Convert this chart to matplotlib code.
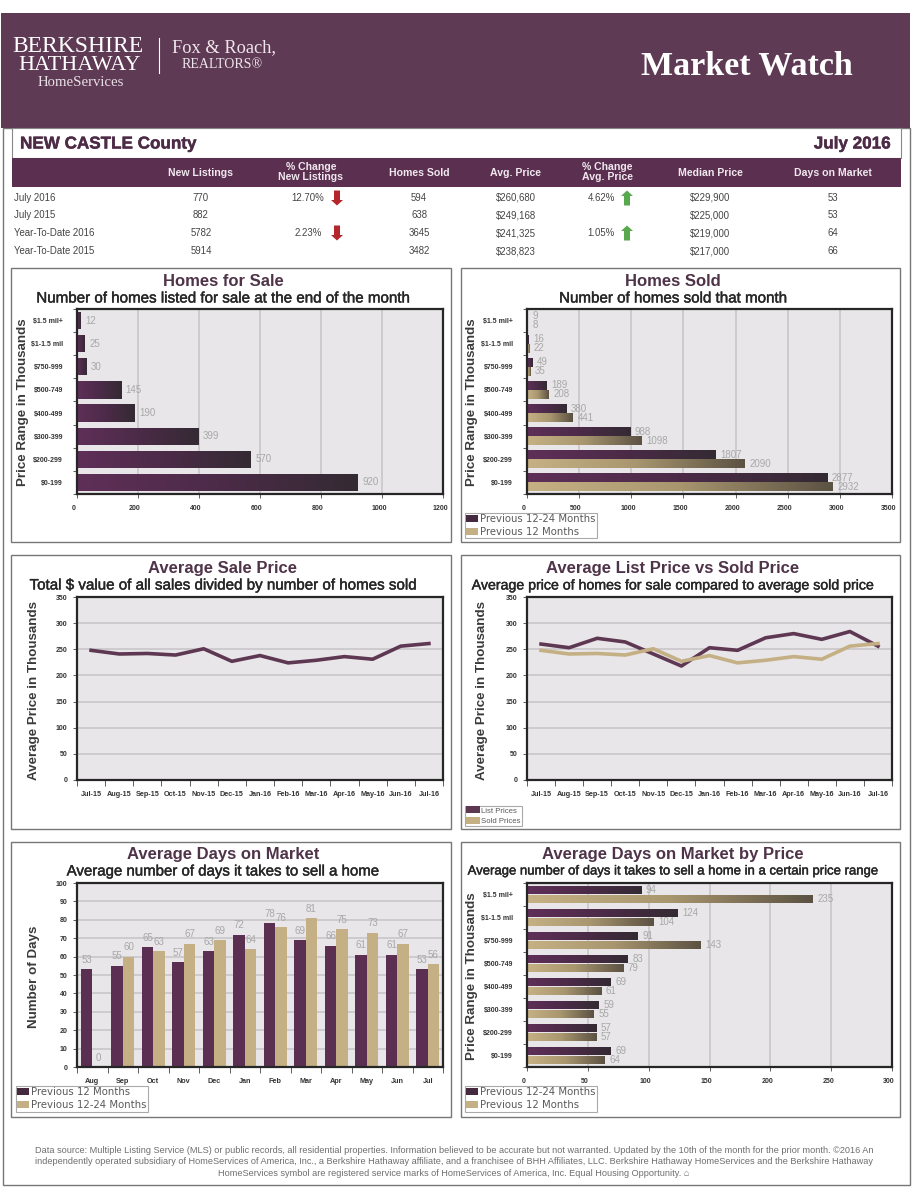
import numpy as np
import matplotlib
matplotlib.use("Agg")
import matplotlib.pyplot as plt
import matplotlib.patheffects as pe
from matplotlib.colors import LinearSegmentedColormap
from matplotlib.patches import Rectangle, Polygon
from matplotlib.transforms import ScaledTranslation

W, H = 924, 1200
PLUM = "#5e3853"
HEAD = "#5f3a54"
BAND = "#5a2f50"
TAN = "#c4b084"
SANS = "Liberation Sans"
SERIF = "Liberation Serif"

plt.rcParams["font.family"] = [SANS, "DejaVu Sans"]

# ---------- data ----------
price_ranges = ["$0-199", "$200-299", "$300-399", "$400-499", "$500-749", "$750-999", "$1-1.5 mil", "$1.5 mil+"]
for_sale = [920, 570, 399, 190, 145, 30, 25, 12]
sold_prev_12_24 = [2877, 1807, 988, 380, 189, 49, 16, 9]
sold_prev_12 = [2932, 2090, 1098, 441, 208, 35, 22, 8]

months_13 = ["Jul-15", "Aug-15", "Sep-15", "Oct-15", "Nov-15", "Dec-15", "Jan-16", "Feb-16", "Mar-16", "Apr-16", "May-16", "Jun-16", "Jul-16"]
sold_prices = [248, 241, 242, 239, 251, 227, 238, 224, 229, 236, 231, 256, 261]
list_prices = [260, 253, 271, 264, 241, 218, 253, 248, 272, 280, 269, 284, 256]

months_12 = ["Aug", "Sep", "Oct", "Nov", "Dec", "Jan", "Feb", "Mar", "Apr", "May", "Jun", "Jul"]
dom_prev_12 = [53, 55, 65, 57, 63, 72, 78, 69, 66, 61, 61, 53]
dom_prev_12_24 = [0, 60, 63, 67, 69, 64, 76, 81, 75, 73, 67, 56]

dom_price_12_24 = [69, 57, 59, 69, 83, 91, 124, 94]
dom_price_12 = [64, 57, 55, 61, 79, 143, 104, 235]

table_columns = ["New Listings", "% Change\nNew Listings", "Homes Sold", "Avg. Price", "% Change\nAvg. Price", "Median Price", "Days on Market"]
table_rows = ["July 2016", "July 2015", "Year-To-Date 2016", "Year-To-Date 2015"]
new_listings = ["770", "882", "5782", "5914"]
pct_listings = ["12.70%", "", "2.23%", ""]
homes_sold = ["594", "638", "3645", "3482"]
avg_price = ["$260,680", "$249,168", "$241,325", "$238,823"]
pct_price = ["4.62%", "", "1.05%", ""]
median_price = ["$229,900", "$225,000", "$219,000", "$217,000"]
days_on_market = ["53", "53", "64", "66"]

footer = ("Data source: Multiple Listing Service (MLS) or public records, all residential properties. Information believed to be accurate but not warranted. Updated by the 10th of the month for the prior month. \u00a92016 An\n"
          "independently operated subsidiary of HomeServices of America, Inc., a Berkshire Hathaway affiliate, and a franchisee of BHH Affiliates, LLC. Berkshire Hathaway HomeServices and the Berkshire Hathaway\n"
          "HomeServices symbol are registered service marks of HomeServices of America, Inc. Equal Housing Opportunity. \u2302")

# ---------- page ----------
fig = plt.figure(figsize=(W / 100, H / 100), dpi=100, facecolor="white")
page = fig.add_axes([0, 0, 1, 1], zorder=0)
page.set_xlim(0, W)
page.set_ylim(H, 0)
page.axis("off")


def box(x0, y0, x1, y1, fc="white", ec="none", lw=1.0, z=1):
    page.add_patch(Rectangle((x0, y0), x1 - x0, y1 - y0, fc=fc, ec=ec, lw=lw, zorder=z))


def heavy(color, w=0.3):
    return [pe.withStroke(linewidth=w, foreground=color)]


box(2.5, 128, 909.5, 1185, ec="#777777", lw=1)
box(1, 12.5, 910, 128, fc=HEAD)
box(12, 128, 901, 158, ec="#888888", lw=0.8, z=2)
box(12, 158, 901, 187, fc=BAND, z=3)

# logo and heading
page.text(78, 47, "BERKSHIRE", family=SERIF, fontsize=17, color="white", ha="center", va="center", zorder=5)
page.text(80, 65.5, "HATHAWAY", family=SERIF, fontsize=16, color="white", ha="center", va="center", zorder=5)
page.text(81, 82, "HomeServices", family=SERIF, fontsize=10.6, color="#e8e0e6", ha="center", va="center", zorder=5)
page.plot([159, 159], [38, 73], color="white", lw=0.8, zorder=5)
page.text(224, 48, "Fox & Roach,", family=SERIF, fontsize=13.2, color="#eee6ec", ha="center", va="center", zorder=5)
page.text(222, 64, "REALTORS\u00ae", family=SERIF, fontsize=10, color="#eee6ec", ha="center", va="center", zorder=5)
page.text(747, 66, "Market Watch", family=SERIF, fontsize=24.5, fontweight="bold", color="white", ha="center", va="center", zorder=5)

page.text(20, 144, "NEW CASTLE County", fontsize=12.3, fontweight="bold", color="#4d2b46", ha="left", va="center", zorder=5,
          path_effects=heavy("#4d2b46"))
page.text(891, 144, "July 2016", fontsize=12.3, fontweight="bold", color="#4d2b46", ha="right", va="center", zorder=5,
          path_effects=heavy("#4d2b46"))

# summary table
col_x = [201, 311, 419, 516, 607, 710, 833]
row_y = [198, 215.5, 233, 251]
for x, label in zip(col_x, table_columns):
    page.text(x, 172.5, label, fontsize=7.6, fontweight="bold", color="#f0e8ee", ha="center", va="center", linespacing=1.0, zorder=5)
for y, label in zip(row_y, table_rows):
    page.text(14, y, label, fontsize=6.9, color="#444444", ha="left", va="center", zorder=5)
columns = [new_listings, pct_listings, homes_sold, avg_price, pct_price, median_price, days_on_market]
value_x = [201, 308, 419, 516, 601, 710, 833]
for x, col in zip(value_x, columns):
    for y, val in zip(row_y, col):
        page.text(x, y, val, fontsize=6.9, color="#444444", ha="center", va="center", zorder=5)


def arrow(x, y, up, color):
    s = -1 if up else 1
    pts = [(x - 3, y - s * 7.5), (x + 3, y - s * 7.5), (x + 3, y + s * 2), (x + 6, y + s * 2),
           (x, y + s * 7.5), (x - 6, y + s * 2), (x - 3, y + s * 2)]
    page.add_patch(Polygon(pts, closed=True, fc=color, ec="none", zorder=5))


for y, v in zip(row_y, pct_listings):
    if v:
        arrow(337, y, False, "#b5262c")
for y, v in zip(row_y, pct_price):
    if v:
        arrow(627, y, True, "#58a84e")

page.text(454, 1162, footer, fontsize=6.6, color="#6e6e6e", ha="center", va="center", linespacing=1.38, zorder=5)

# ---------- panels ----------
PURPLE_CMAP = LinearSegmentedColormap.from_list("p", ["#5f2f58", "#4c2b48", "#342a33"])
TAN_CMAP = LinearSegmentedColormap.from_list("t", ["#c6b184", "#a8966f", "#5c5243"])
TITLE_COL = "#4f3349"
SUB_COL = "#262626"
TICK_COL = "#333333"
VAL_COL = "#a8a8a8"
GRID_COL = "#cbc9cb"


def make_panel(frame, axes_box, title, subtitle, sub_size, title_y, ylabel, ylabel_xy):
    x0, y0, x1, y1 = frame
    box(x0, y0, x1, y1, ec="#777777", lw=1, z=2)
    cx = 223 if x0 < 100 else 673
    page.text(cx, title_y + 1, title, fontsize=12, fontweight="bold", color=TITLE_COL, ha="center", va="center", zorder=5)
    page.text(cx, title_y + 18.5, subtitle, fontsize=sub_size, color=SUB_COL, ha="center", va="center", zorder=5,
              path_effects=heavy(SUB_COL))
    page.text(ylabel_xy[0] + 3, ylabel_xy[1], ylabel, fontsize=9.6, fontweight="bold", color="#3a3a3a", rotation=90, ha="center", va="center", zorder=5)
    ax0, ay0, ax1, ay1 = axes_box
    ax = fig.add_axes([ax0 / W, 1 - ay1 / H, (ax1 - ax0) / W, (ay1 - ay0) / H], zorder=3)
    ax.set_facecolor("#e8e6e8")
    for s in ax.spines.values():
        s.set_color("#262626")
        s.set_linewidth(1.6)
    ax.set_axisbelow(True)
    return ax


def gradient_fill(ax, bars, cmap):
    grad = np.linspace(0, 1, 128).reshape(1, -1)
    for b in bars:
        x, y, w, h = b.get_x(), b.get_y(), b.get_width(), b.get_height()
        if w <= 0:
            continue
        b.set_facecolor("none")
        im = ax.imshow(grad, extent=[x, x + w, y, y + h], aspect="auto", cmap=cmap, zorder=2.5, interpolation="bilinear")
        im.set_clip_path(b)
    ax.set_aspect("auto")


def hbar_axes(ax, xmax, xstep):
    ax.set_ylim(-0.5, 7.5)
    ax.set_xlim(0, xmax)
    ax.set_xticks(np.arange(0, xmax + 1, xstep))
    ax.set_yticks(range(8))
    ax.set_yticklabels(price_ranges)
    ax.set_yticks(np.arange(-0.5, 8, 1), minor=True)
    ax.tick_params(axis="y", which="major", length=0, pad=10, labelsize=5, labelcolor=TICK_COL)
    ax.tick_params(axis="y", which="minor", length=3, width=0.6, color="#444444")
    ax.tick_params(axis="x", which="major", length=3, width=0.6, color="#444444", pad=5, labelsize=5, labelcolor=TICK_COL)
    ax.grid(axis="x", color=GRID_COL, lw=1.3)
    shift = ScaledTranslation(-3 / 100, 0, fig.dpi_scale_trans)
    for lab in ax.get_xticklabels():
        lab.set_transform(lab.get_transform() + shift)
    for lab in ax.get_xticklabels() + ax.get_yticklabels():
        lab.set_fontweight("bold")


def add_legend(ax, labels, colors, left, bottom, fs, family="DejaVu Sans", hl=1.2, hh=0.65):
    handles = [Rectangle((0, 0), 1, 1, fc=c, ec="none") for c in colors]
    leg = ax.legend(handles, labels, loc="lower left", bbox_to_anchor=(left / W, 1 - bottom / H), bbox_transform=fig.transFigure,
                    borderaxespad=0, fancybox=False, framealpha=1, facecolor="white", edgecolor="#aaaaaa",
                    prop={"family": family, "size": fs}, labelcolor="#5a5a5a", handlelength=hl, handleheight=hh,
                    handletextpad=0.2, labelspacing=0.3, borderpad=0.12)
    leg.get_frame().set_linewidth(0.8)
    leg.set_zorder(10)
    leg.set_clip_on(False)


def month_axes(ax, labels, ymax, ystep):
    n = len(labels)
    ax.set_xlim(-0.5, n - 0.5)
    ax.set_ylim(0, ymax)
    ax.set_xticks(range(n))
    ax.set_xticklabels(labels)
    ax.set_xticks(np.arange(-0.5, n, 1), minor=True)
    ax.set_yticks(np.arange(0, ymax + 1, ystep))
    ax.tick_params(axis="x", which="major", length=0, pad=8, labelsize=5.2, labelcolor=TICK_COL)
    ax.tick_params(axis="x", which="minor", length=4, width=0.6, color="#444444")
    ax.tick_params(axis="y", which="major", length=3, width=0.6, color="#444444", pad=4, labelsize=5, labelcolor=TICK_COL)
    ax.grid(axis="y", color=GRID_COL, lw=1.3)
    for lab in ax.get_xticklabels() + ax.get_yticklabels():
        lab.set_fontweight("bold")


L_FRAME, R_FRAME = (11, 451), (461, 900)
L_AX, R_AX = (77, 443), (527, 892)
LABEL_PAD = 3.2

# Homes for Sale
ax = make_panel((L_FRAME[0], 268, L_FRAME[1], 542), (L_AX[0], 309, L_AX[1], 494), "Homes for Sale",
                "Number of homes listed for sale at the end of the month", 10.9, 280, "Price Range in Thousands", (20, 402))
hbar_axes(ax, 1200, 200)
bars = ax.barh(range(8), for_sale, height=0.75, zorder=2)
gradient_fill(ax, bars, PURPLE_CMAP)
ax.bar_label(bars, padding=LABEL_PAD, fontsize=7, color=VAL_COL)

# Homes Sold
ax = make_panel((R_FRAME[0], 268, R_FRAME[1], 542), (R_AX[0], 309, R_AX[1], 494), "Homes Sold",
                "Number of homes sold that month", 10.9, 280, "Price Range in Thousands", (469, 402))
hbar_axes(ax, 3500, 500)
y = np.arange(8)
b1 = ax.barh(y + 0.195, sold_prev_12_24, height=0.39, zorder=2)
b2 = ax.barh(y - 0.195, sold_prev_12, height=0.39, zorder=2)
gradient_fill(ax, b1, PURPLE_CMAP)
gradient_fill(ax, b2, TAN_CMAP)
ax.bar_label(b1, padding=LABEL_PAD, fontsize=7, color=VAL_COL)
ax.bar_label(b2, padding=LABEL_PAD, fontsize=7, color=VAL_COL)
add_legend(ax, ["Previous 12-24 Months", "Previous 12 Months"], ["#45293f", TAN], 465, 538, 7.3)

# Average Sale Price
ax = make_panel((L_FRAME[0], 555, L_FRAME[1], 829), (L_AX[0], 597, L_AX[1], 780), "Average Sale Price",
                "Total $ value of all sales divided by number of homes sold", 10.9, 567, "Average Price in Thousands", (31, 690))
month_axes(ax, months_13, 350, 50)
ax.plot(range(13), sold_prices, color=PLUM, lw=2.6, zorder=3)

# Average List Price vs Sold Price
ax = make_panel((R_FRAME[0], 555, R_FRAME[1], 829), (R_AX[0], 597, R_AX[1], 780), "Average List Price vs Sold Price",
                "Average price of homes for sale compared to average sold price", 10.2, 567, "Average Price in Thousands", (479, 690))
month_axes(ax, months_13, 350, 50)
ax.plot(range(13), list_prices, color=PLUM, lw=2.6, zorder=3)
ax.plot(range(13), sold_prices, color=TAN, lw=2.6, zorder=3)
add_legend(ax, ["List Prices", "Sold Prices"], [PLUM, TAN], 465, 826, 5.6, family=SANS, hl=1.8, hh=1.0)

# Average Days on Market
ax = make_panel((L_FRAME[0], 842, L_FRAME[1], 1117), (L_AX[0], 883, L_AX[1], 1067), "Average Days on Market",
                "Average number of days it takes to sell a home", 10.8, 853, "Number of Days", (31, 977))
month_axes(ax, months_12, 100, 10)
x = np.arange(12)
b1 = ax.bar(x - 0.187, dom_prev_12, width=0.373, color="#5a2f52", zorder=2)
b2 = ax.bar(x + 0.187, dom_prev_12_24, width=0.373, color=TAN, zorder=2)
ax.bar_label(b1, padding=LABEL_PAD, fontsize=7, color=VAL_COL)
ax.bar_label(b2, padding=LABEL_PAD, fontsize=7, color=VAL_COL)
add_legend(ax, ["Previous 12 Months", "Previous 12-24 Months"], ["#45293f", TAN], 16, 1111.5, 7.3)

# Average Days on Market by Price
ax = make_panel((R_FRAME[0], 842, R_FRAME[1], 1117), (R_AX[0], 883, R_AX[1], 1067), "Average Days on Market by Price",
                "Average number of days it takes to sell a home in a certain price range", 9.45, 853, "Price Range in Thousands", (469, 976))
hbar_axes(ax, 300, 50)
b1 = ax.barh(y + 0.195, dom_price_12_24, height=0.39, zorder=2)
b2 = ax.barh(y - 0.195, dom_price_12, height=0.39, zorder=2)
gradient_fill(ax, b1, PURPLE_CMAP)
gradient_fill(ax, b2, TAN_CMAP)
ax.bar_label(b1, padding=LABEL_PAD, fontsize=7, color=VAL_COL)
ax.bar_label(b2, padding=LABEL_PAD, fontsize=7, color=VAL_COL)
add_legend(ax, ["Previous 12-24 Months", "Previous 12 Months"], ["#45293f", TAN], 465, 1111.5, 7.3)

fig.savefig("out.png", dpi=100)
